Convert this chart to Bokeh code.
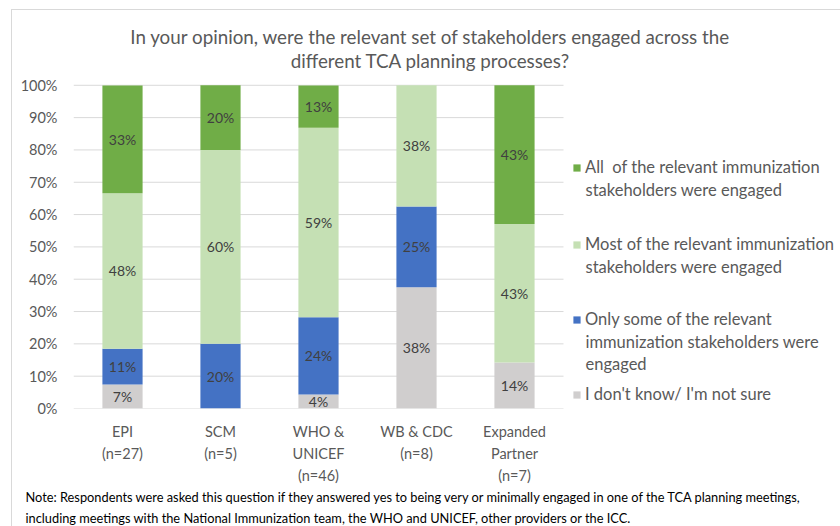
from bokeh.plotting import figure
from bokeh.models import (Legend, LegendItem, Label, LabelSet, ColumnDataSource,
                          FixedTicker, Range1d, Title, InlineStyleSheet)
from bokeh.core.properties import value
from bokeh.embed import file_html
from bokeh.resources import INLINE

# ---------------- data ----------------
categories = ["EPI\n(n=27)", "SCM\n(n=5)", "WHO &\nUNICEF\n(n=46)",
              "WB & CDC\n(n=8)", "Expanded\nPartner\n(n=7)"]
dont_know = [7.4, 0.0, 4.3, 37.5, 14.2]
only_some = [11.1, 20.0, 23.9, 25.0, 0.0]
most = [48.1, 60.0, 58.7, 37.5, 42.9]
all_of = [33.3, 20.0, 13.0, 0.0, 42.9]

series_keys = ["dont_know", "only_some", "most", "all_of"]
series_labels = ["I don't know/ I'm not sure",
                 "Only some of the relevant\nimmunization stakeholders were\nengaged",
                 "Most of the relevant immunization\nstakeholders were engaged",
                 "All  of the relevant immunization\nstakeholders were engaged"]
colors = ["#D0CECE", "#4472C4", "#C5E0B4", "#70AD47"]
y_ticks = [0, 10, 20, 30, 40, 50, 60, 70, 80, 90, 100]

title_lines = ["In your opinion, were the relevant set of stakeholders engaged across the",
               "different TCA planning processes?"]
note_text = ("Note: Respondents were asked this question if they answered yes to being very or minimally engaged in one of the TCA planning meetings,\n"
             "including meetings with the National Immunization team, the WHO and UNICEF, other providers or the ICC.")

FONT = "Lato"
GREY_TXT = "#595959"

# layout geometry (page pixels)
W, H = 840, 526
PLOT_L, PLOT_R, PLOT_T, PLOT_B = 73, 563, 85, 409
n = len(categories)
px_per_cat = (PLOT_R - PLOT_L) / n
px_per_pct = (PLOT_B - PLOT_T) / 100.0

xpos = [i + 0.5 for i in range(n)]
data = dict(x=xpos, dont_know=dont_know, only_some=only_some, most=most, all_of=all_of)
src = ColumnDataSource(data)

# frame covers from x=73 to the right edge and from the top edge down to y=409
x_max = (W - PLOT_L) / px_per_cat
y_max = PLOT_B / px_per_pct

p = figure(width=W, height=H, x_range=Range1d(0, x_max), y_range=Range1d(0, y_max),
           output_backend="svg", toolbar_location=None, title=None,
           min_border_left=PLOT_L, min_border_right=0, min_border_top=0,
           min_border_bottom=H - PLOT_B)
p.outline_line_color = None
p.xgrid.grid_line_color = None
p.ygrid.grid_line_color = None

# faint chart-area border (top and left edges, as in the reference)
p.stylesheets = [InlineStyleSheet(css=(
    ":host { position: relative; }"
    ":host::after { content: ''; position: absolute; left: 11px; top: 9px; right: 0; bottom: 0;"
    " border-left: 1px solid #D9D9D9; border-top: 1px solid #D9D9D9; pointer-events: none; }"))]

# horizontal gridlines spanning the bar area only
p.segment(x0=[0] * len(y_ticks), x1=[n] * len(y_ticks), y0=y_ticks, y1=y_ticks,
          line_color="#D9D9D9", line_width=1)

renderers = p.vbar_stack(series_keys, x="x", width=0.41, color=colors, source=src,
                         line_color=None)

# data labels (centre of each non-empty segment)
lx, ly, lt = [], [], []
for i in range(n):
    base = 0.0
    for key in series_keys:
        v = data[key][i]
        if v > 0:
            lx.append(xpos[i])
            ly.append(base + v / 2)
            lt.append(f"{int(v + 0.5)}%")
        base += v
lab_src = ColumnDataSource(dict(x=lx, y=ly, t=lt))
p.add_layout(LabelSet(x="x", y="y", text="t", source=lab_src, text_align="center",
                      text_baseline="middle", text_font=value(FONT),
                      text_font_size=value("14px"), text_color=value("#404040")))

# axes
p.yaxis.ticker = FixedTicker(ticks=y_ticks)
p.yaxis.major_label_overrides = {t: f"{t}%" for t in y_ticks}
p.yaxis.axis_line_color = None
p.yaxis.major_tick_line_color = None
p.yaxis.minor_tick_line_color = None
p.yaxis.major_tick_out = 0
p.yaxis.minor_tick_out = 0
p.yaxis.major_label_standoff = 16
p.yaxis.major_label_text_font = FONT
p.yaxis.major_label_text_font_size = "14.5px"
p.yaxis.major_label_text_color = GREY_TXT

p.xaxis.ticker = FixedTicker(ticks=xpos)
p.xaxis.major_label_overrides = {x: c for x, c in zip(xpos, categories)}
p.xaxis.axis_line_color = None
p.xaxis.major_tick_line_color = None
p.xaxis.minor_tick_line_color = None
p.xaxis.major_tick_out = 0
p.xaxis.minor_tick_out = 0
p.xaxis.major_label_standoff = 14
p.xaxis.major_label_text_font = FONT
p.xaxis.major_label_text_font_size = "14.5px"
p.xaxis.major_label_text_color = GREY_TXT
p.xaxis.major_label_text_line_height = 1.3

# page-pixel -> data helpers
def dx(px):
    return (px - PLOT_L) / px_per_cat

def dy(py):
    return (PLOT_B - py) / px_per_pct

for line, py in zip(title_lines, [36, 60]):
    p.add_layout(Label(x=dx(430), y=dy(py),
                       text=line, text_align="center", text_baseline="middle",
                       text_font=FONT, text_font_size="18.8px", text_color=GREY_TXT))

# note below the axis
note = Title(text=note_text, align="left", offset=25 - PLOT_L, standoff=0,
             text_font=FONT, text_font_size="12.8px", text_color="#000000",
             text_font_style="normal", text_line_height=1.35)
p.add_layout(note, "below")

# legend: one legend per entry (top to bottom); glyph sits on the first line,
# further lines of the entry are set underneath
legend_order = [3, 2, 1, 0]
legend_first_line = [168, 245, 320, 395]
LEG_FS = "16.5px"
for idx, cy in zip(legend_order, legend_first_line):
    lines = series_labels[idx].split("\n")
    leg = Legend(items=[LegendItem(label=lines[0], renderers=[renderers[idx]])],
                 location=(572 - PLOT_L, PLOT_B - cy - 10), padding=0, margin=0,
                 border_line_color=None, background_fill_alpha=0,
                 glyph_width=9, glyph_height=9, label_height=20, label_standoff=4,
                 label_text_font=FONT, label_text_font_size=LEG_FS,
                 label_text_color=GREY_TXT)
    p.add_layout(leg, "center")
    for k, extra in enumerate(lines[1:], start=1):
        p.add_layout(Label(x=dx(585), y=dy(cy + 22 * k), text=extra,
                           text_align="left", text_baseline="middle",
                           text_font=FONT, text_font_size=LEG_FS,
                           text_color=GREY_TXT))

open("out.html", "w").write(file_html(p, INLINE))
